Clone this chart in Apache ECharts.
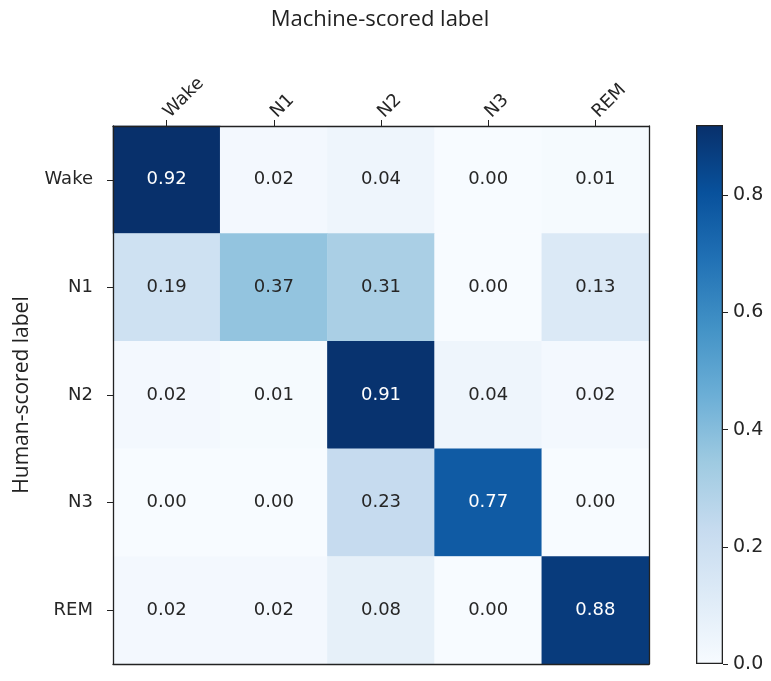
<!DOCTYPE html>
<html>
<head>
<meta charset="utf-8">
<script src="https://cdn.jsdelivr.net/npm/echarts@6/dist/echarts.min.js"></script>
<style>
  html, body { margin: 0; padding: 0; background: #ffffff; }
  #chart { width: 771px; height: 681px; }
</style>
</head>
<body>
<div id="chart"></div>
<script>
// Sleep-stage confusion matrix: rows are human-scored, columns machine-scored.
const stages = ['Wake', 'N1', 'N2', 'N3', 'REM'];
const rowWake = [0.92, 0.02, 0.04, 0.00, 0.01];
const rowN1   = [0.19, 0.37, 0.31, 0.00, 0.13];
const rowN2   = [0.02, 0.01, 0.91, 0.04, 0.02];
const rowN3   = [0.00, 0.00, 0.23, 0.77, 0.00];
const rowREM  = [0.02, 0.02, 0.08, 0.00, 0.88];
const rows = [rowWake, rowN1, rowN2, rowN3, rowREM];
const colorbarTicks = [0.0, 0.2, 0.4, 0.6, 0.8];

const vMin = 0;
const vMax = 0.92;

// matplotlib "Blues" colormap stops
const blues = ['#f7fbff', '#deebf7', '#c6dbef', '#9ecae1', '#6baed6',
               '#4292c6', '#2171b5', '#08519c', '#08306b'];

const cells = [];
rows.forEach((row, r) => {
  row.forEach((v, c) => cells.push({
    value: [c, r, v],
    // light text on dark cells, dark text elsewhere
    label: { color: v > (vMax + vMin) / 2 ? '#ffffff' : '#262626' }
  }));
});

const tickFont = 'DejaVu Sans';
const textColor = '#262626';
const frame = { show: true, lineStyle: { color: '#222', width: 1.3 } };

const chart = echarts.init(document.getElementById('chart'), null, { renderer: 'canvas' });

chart.setOption({
  animation: false,
  backgroundColor: '#ffffff',
  title: [
    {
      text: 'Machine-scored label',
      left: 375, top: 4, textAlign: 'center',
      textStyle: { fontFamily: 'Open Sans', fontSize: 22, fontWeight: 'normal', color: '#222' }
    }
  ],
  grid: [
    { left: 113, top: 126, width: 536, height: 538 },
    { left: 696, top: 125, width: 27, height: 539 }
  ],
  xAxis: [
    {
      gridIndex: 0, type: 'category', data: stages, position: 'top', z: 10,
      axisLine: frame,
      axisTick: { show: true, alignWithLabel: true, length: 6, lineStyle: { color: '#222' } },
      axisLabel: { rotate: -45, margin: 11, fontFamily: tickFont, fontSize: 18, color: textColor },
      splitLine: { show: false }
    },
    {
      gridIndex: 0, type: 'category', data: stages, position: 'bottom', z: 10,
      axisLine: frame, axisTick: { show: false }, axisLabel: { show: false }
    },
    {
      gridIndex: 1, type: 'category', data: ['scale'],
      axisLine: { show: false }, axisTick: { show: false }, axisLabel: { show: false }
    }
  ],
  yAxis: [
    {
      gridIndex: 0, type: 'category', data: stages, inverse: true, position: 'left', z: 10,
      name: 'Human-scored label', nameLocation: 'middle', nameGap: 80, nameRotate: 90,
      nameTextStyle: { fontFamily: 'Open Sans', fontSize: 21, color: '#222' },
      axisLine: frame,
      axisTick: { show: true, alignWithLabel: true, length: 6, lineStyle: { color: '#222' } },
      axisLabel: { margin: 20, fontFamily: tickFont, fontSize: 18, color: textColor },
      splitLine: { show: false }
    },
    {
      gridIndex: 0, type: 'category', data: stages, inverse: true, position: 'right', z: 10,
      axisLine: frame, axisTick: { show: false }, axisLabel: { show: false }
    },
    {
      gridIndex: 1, type: 'value', min: vMin, max: vMax, position: 'right',
      axisLine: { show: false },
      axisTick: { show: true, length: 5, lineStyle: { color: '#222' }, customValues: colorbarTicks },
      axisLabel: {
        margin: 10, fontFamily: tickFont, fontSize: 19, color: textColor,
        customValues: colorbarTicks,
        formatter: v => v.toFixed(1)
      },
      splitLine: { show: false }
    }
  ],
  visualMap: {
    show: false,
    type: 'continuous',
    seriesIndex: 0,
    dimension: 2,
    min: vMin,
    max: vMax,
    inRange: { color: blues }
  },
  series: [
    {
      type: 'heatmap',
      xAxisIndex: 0, yAxisIndex: 0,
      data: cells,
      label: {
        show: true,
        fontFamily: tickFont,
        fontSize: 18,
        formatter: p => p.value[2].toFixed(2)
      },
      itemStyle: { borderWidth: 0 },
      emphasis: { disabled: true }
    },
    {
      // colour bar drawn as a single bar with a vertical Blues gradient
      type: 'bar',
      xAxisIndex: 2, yAxisIndex: 2,
      data: [vMax],
      barWidth: '100%',
      silent: true,
      itemStyle: {
        borderColor: '#222', borderWidth: 1.3,
        color: new echarts.graphic.LinearGradient(0, 1, 0, 0,
          blues.map((c, i) => ({ offset: i / (blues.length - 1), color: c })))
      }
    }
  ]
});
</script>
</body>
</html>
